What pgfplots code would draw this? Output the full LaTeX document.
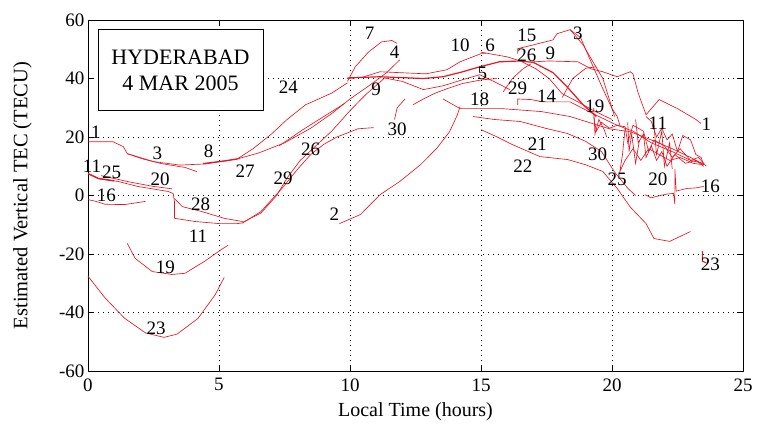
\documentclass[border=0pt]{standalone}
\usepackage{pgfplots}
\pgfplotsset{compat=1.18}
\usepackage{fontspec}
\setmainfont{Liberation Serif}
\definecolor{tecred}{RGB}{232,22,34}
\tikzset{lbl/.style={font=\fontsize{19}{21}\selectfont, inner sep=0pt, text=black},
         tec/.style={draw=tecred, solid, line width=0.65pt, mark=none}}
\begin{document}
\begin{tikzpicture}
\begin{axis}[
  scale only axis, width=655pt, height=351pt,
  xmin=0, xmax=25, ymin=-60, ymax=60,
  xtick={0,5,...,25}, ytick={-60,-40,...,60},
  grid=major,
  grid style={black, line width=0.8pt, dash pattern=on 0.9pt off 4.1pt},
  axis line style={black, line width=0.8pt},
  tick style={black, line width=0.8pt},
  major tick length=6pt,
  tick align=inside,
  xtick pos=both, ytick pos=both,
  /pgf/number format/assume math mode=true,
  ticklabel style={font=\fontsize{19}{21}\selectfont},
  xticklabel style={yshift=-4pt},
  xlabel={Local Time (hours)},
  ylabel={Estimated Vertical TEC (TECU)},
  xlabel style={font=\fontsize{20}{22}\selectfont, at={(axis description cs:0.5,-0.115)}, anchor=center},
  ylabel style={font=\fontsize{20.5}{22}\selectfont, at={(axis description cs:-0.1,0.5)}, anchor=center},
  clip=false,
]
% ---- early hours, left side
\addplot[tec] coordinates {(0,18.4) (0.95,18.4) (1.35,16.7) (1.5,14.3) (2.05,12.6) (2.8,10.9) (3.7,9.6) (4.15,8.2)};
\addplot[tec] coordinates {(1.5,14.3) (2.5,11.6) (3.5,10.4) (4.5,10.8) (5.2,11.8) (5.8,12.6)};
\addplot[tec, line width=1.3pt] coordinates {(4.4,10.9) (5.2,11.8) (5.7,12.5)};
\addplot[tec] coordinates {(0,7.5) (0.4,5.8) (1.15,4.8) (1.9,3.1) (3.05,1.4) (3.25,0.7) (3.3,-2) (3.3,-7.8) (4.1,-8.9) (5,-9.6) (5.7,-9.6) (5.95,-9.3)};
\addplot[tec, line width=1.4pt] coordinates {(0,7.5) (0.4,5.8) (1.0,5.0)};
\addplot[tec] coordinates {(0.5,6.8) (1.6,4.6) (2.5,3.1) (3.2,2.3)};
\addplot[tec] coordinates {(0,-1.4) (0.3,-2) (0.65,-3) (1.4,-3.1) (2.2,-2)};
\addplot[tec] coordinates {(3.3,-1) (3.6,-3.8) (4.35,-5.5) (5.2,-7.8) (5.9,-8.9)};
\addplot[tec] coordinates {(1.5,-16.4) (1.8,-21.5) (2.45,-26) (3.2,-27) (3.7,-26.6) (4.45,-22.5) (5.1,-18.4) (5.35,-17)};
\addplot[tec] coordinates {(0,-27.6) (0.65,-35) (1.4,-42) (2.2,-47) (2.9,-48.5) (3.4,-47.4) (4.2,-42) (4.85,-34) (5.2,-28)};
% ---- morning rise
\addplot[tec] coordinates {(5.9,-9.4) (6.6,-5.5) (7.4,2.4) (8,9) (8.5,14) (9,17.5) (9.5,20) (10.3,22.8) (10.9,23.2)};
\addplot[tec] coordinates {(5.9,-9.2) (6.6,-6) (7.2,0) (7.6,6) (8.1,12) (8.7,17) (9.3,22) (10,29) (10.6,34.5) (11.3,40)};
\addplot[tec] coordinates {(5.7,12.5) (6.3,16) (7,21) (7.6,26) (8.3,31) (9.3,35) (9.9,38.5)};
\addplot[tec] coordinates {(9.9,39) (10.2,44) (10.7,49) (11.2,52.5) (11.6,53) (11.8,52)};
\addplot[tec] coordinates {(5.7,12.5) (6.5,14.5) (7.5,18) (8.5,23) (9.3,28) (10,33) (10.8,38) (11.4,42) (11.9,46.4)};
\addplot[tec] coordinates {(7.3,17) (8.2,22.5) (9,27) (9.8,31.5)};
\addplot[tec] coordinates {(9.6,-9.6) (10.4,-6.5) (11.15,0.3) (11.9,4.8) (12.7,10.6) (13.3,16) (13.8,21.8) (14.1,27.6) (14.2,30.4)};
\addplot[tec] coordinates {(12.1,33) (11.8,30) (11.7,26)};
% ---- midday cluster
\addplot[tec] coordinates {(9.9,40) (10.5,40.5) (11.15,42.3) (12.9,41.6) (13.7,43) (14.2,45.7) (15,48.5) (15.2,48.5)};
\addplot[tec, line width=1.2pt] coordinates {(9.9,40.2) (11.15,40.6) (12.8,40) (13.55,40.6) (14.3,42.3) (14.95,44) (15.7,45.7) (16.5,46) (17,45.5) (17.75,42) (18.3,37) (18.9,31) (19.4,27)};
\addplot[tec] coordinates {(11.3,40.2) (12,39) (12.8,36.2) (13.55,37.5) (14.3,39.6) (14.95,41.3) (15.6,38.5) (16.1,36.2)};
\addplot[tec] coordinates {(12.4,31) (12.8,33) (13.2,34.8) (13.7,36.5) (14.3,38.3) (15,39.5) (15.6,40)};
\addplot[tec] coordinates {(15,49) (16,47.4) (16.5,46) (17.1,43.3) (17.6,40) (18.1,34.8) (18.7,32) (19.3,29) (20,26)};
\addplot[tec] coordinates {(15.85,35.5) (16.2,40) (16.6,43.3) (16.9,45)};
\addplot[tec] coordinates {(16.4,48.5) (16.4,50.2) (17,51.5) (17.75,53.2) (17.9,55.3) (18.4,56.7)};
\addplot[tec] coordinates {(18.4,56.7) (18.8,54) (19.2,45.7) (19.65,36.5) (20,29.7) (20.2,27) (20.3,24)};
\addplot[tec] coordinates {(18.4,56.7) (18.9,51.5) (19.2,46.8) (19.65,40) (20.1,27)};
\addplot[tec] coordinates {(17,45.7) (17.6,46) (18.7,45.7) (19.2,43.3) (19.65,42.3) (20.2,40.6) (20.7,42.3) (20.8,41.6) (21.0,35) (21.3,27.6) (21.8,32.8) (22.5,29.7) (23.2,26) (23.4,24.6)};
\addplot[tec] coordinates {(18.1,33.5) (18.5,40) (19,43.5) (19.4,44)};
% ---- afternoon decay
\addplot[tec] coordinates {(13.55,33) (14.2,29.7) (15.8,29.7) (17.3,28.7) (18.4,27) (19.4,24.2) (19.9,22.8) (20.7,21.8) (21.5,19) (22.3,16) (23,13) (23.5,10.6)};
\addplot[tec] coordinates {(14.7,27) (15.5,26) (16.5,25.3) (17.5,22.9) (18.3,21.2) (19,18.5) (19.6,15) (20.1,8) (20.6,2.5) (20.9,0)};
\addplot[tec] coordinates {(15.0,22.5) (15.5,20.5) (16.2,17.4) (17.25,13.3) (18.3,12.3) (19,10.5) (19.65,8.2) (20.2,2.4) (20.7,-4) (21.3,-9.6) (21.6,-14.7) (22.2,-15.7) (23,-12.3)};
\addplot[tec] coordinates {(16.4,31) (16.4,33) (16.9,32.8) (17.4,32) (18.4,32) (18.9,29.7) (19.5,27) (20.2,24) (20.8,22) (21.5,18) (22.3,15) (23,12) (23.5,11)};
% ---- evening jagged traces
\addplot[tec] coordinates {(19.3,27) (19.4,22) (19.6,25) (19.9,23) (20.2,24) (20.5,23.5) (20.6,18) (20.8,24) (21.2,22) (21.4,15) (21.6,19) (22,17) (22.3,13) (22.6,16) (23,12) (23.3,13) (23.6,10)};
\addplot[tec] coordinates {(21.3,27) (21.5,25.3) (21.7,20) (21.9,23) (22.1,19) (22.3,21) (22.5,15) (22.7,20.5) (23,19) (23.2,14) (23.4,13) (23.5,10.5)};
\addplot[tec] coordinates {(20.5,23) (20.4,14) (20.3,8.2) (20.5,12) (20.8,16) (21.1,12) (21.4,16) (21.8,14) (22.2,12) (22.6,13) (23.1,11) (23.5,10.5)};
\addplot[tec] coordinates {(20.9,26) (21.0,18) (21.2,21) (21.3,13) (21.5,17) (21.7,12) (21.9,15) (22.1,10) (22.4,14) (22.8,11) (23.2,12) (23.5,10)};
\addplot[tec] coordinates {(19.3,30) (19.35,21) (19.5,26) (19.7,22.5) (19.8,20)};
\addplot[tec] coordinates {(20.6,25) (20.65,15) (20.75,21) (20.9,11) (21.05,19)};
\addplot[tec] coordinates {(21.6,24) (21.7,14) (21.9,22) (22.0,10) (22.2,18) (22.3,9)};
\addplot[tec] coordinates {(21.25,0.3) (21.5,-0.8) (21.7,-0.3) (22.1,0.5) (22.35,0.7) (22.4,-3) (22.4,9) (22.45,1.5) (22.85,2.4) (23.2,2.6) (23.5,3.1)};
\addplot[tec, line width=1.1pt] coordinates {(23.45,-19) (23.45,-22.5) (23.6,-23)};
% ---- labels
\node[draw, line width=0.9pt, fill=white, align=center, font=\fontsize{22}{26}\selectfont,
      minimum width=165pt, minimum height=81pt, inner sep=2pt] at (axis cs:3.53,42.85) {HYDERABAD\\4 MAR 2005};
\node[lbl] at (axis cs:0.3,21.5) {1};
\node[lbl] at (axis cs:0.15,9.9) {11};
\node[lbl] at (axis cs:0.9,7.8) {25};
\node[lbl] at (axis cs:2.75,5.5) {20};
\node[lbl] at (axis cs:2.65,14.3) {3};
\node[lbl] at (axis cs:4.6,15) {8};
\node[lbl] at (axis cs:0.7,0) {16};
\node[lbl] at (axis cs:4.3,-3) {28};
\node[lbl] at (axis cs:6.0,8.2) {27};
\node[lbl] at (axis cs:7.45,5.8) {29};
\node[lbl] at (axis cs:8.5,15.7) {26};
\node[lbl] at (axis cs:7.65,36.9) {24};
\node[lbl] at (axis cs:10.75,55.3) {7};
\node[lbl] at (axis cs:11.7,49) {4};
\node[lbl] at (axis cs:11,36.2) {9};
\node[lbl] at (axis cs:11.8,22.7) {30};
\node[lbl] at (axis cs:9.4,-6.5) {2};
\node[lbl] at (axis cs:4.2,-13.8) {11};
\node[lbl] at (axis cs:2.95,-24.6) {19};
\node[lbl] at (axis cs:2.6,-45.4) {23};
\node[lbl] at (axis cs:14.2,51.5) {10};
\node[lbl] at (axis cs:15.35,51.5) {6};
\node[lbl] at (axis cs:16.75,54.9) {15};
\node[lbl] at (axis cs:18.7,55.3) {3};
\node[lbl] at (axis cs:16.75,48.1) {26};
\node[lbl] at (axis cs:17.65,48.5) {9};
\node[lbl] at (axis cs:15.05,41.6) {5};
\node[lbl] at (axis cs:16.4,36.5) {29};
\node[lbl] at (axis cs:17.5,33.8) {14};
\node[lbl] at (axis cs:14.95,32.8) {18};
\node[lbl] at (axis cs:19.35,30.4) {19};
\node[lbl] at (axis cs:21.75,24.6) {11};
\node[lbl] at (axis cs:23.6,24.2) {1};
\node[lbl] at (axis cs:17.15,17.4) {21};
\node[lbl] at (axis cs:19.45,14) {30};
\node[lbl] at (axis cs:16.6,9.9) {22};
\node[lbl] at (axis cs:20.2,5.5) {25};
\node[lbl] at (axis cs:21.75,5.5) {20};
\node[lbl] at (axis cs:23.75,3.1) {16};
\node[lbl] at (axis cs:23.75,-23.5) {23};
\end{axis}
\useasboundingbox (-88pt,-61pt) rectangle (670pt,371pt);
\end{tikzpicture}
\end{document}
